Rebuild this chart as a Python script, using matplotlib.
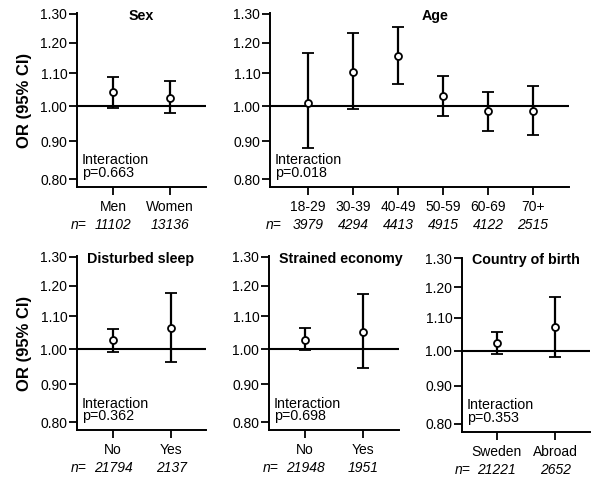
import numpy as np
import matplotlib
matplotlib.use("Agg")
import matplotlib.pyplot as plt

plt.rcParams['font.family'] = ['Liberation Sans', 'DejaVu Sans']

# data: OR, lower CI, upper CI, n
sex_cats = ["Men", "Women"]
sex_or = [1.043, 1.025]
sex_lo = [0.996, 0.979]
sex_hi = [1.088, 1.075]
sex_n = [11102, 13136]
sex_p = "0.663"

age_cats = ["18-29", "30-39", "40-49", "50-59", "60-69", "70+"]
age_or = [1.011, 1.104, 1.155, 1.030, 0.986, 0.986]
age_lo = [0.882, 0.993, 1.068, 0.971, 0.930, 0.918]
age_hi = [1.167, 1.233, 1.253, 1.091, 1.043, 1.062]
age_n = [3979, 4294, 4413, 4915, 4122, 2515]
age_p = "0.018"

sleep_cats = ["No", "Yes"]
sleep_or = [1.027, 1.064]
sleep_lo = [0.992, 0.964]
sleep_hi = [1.060, 1.176]
sleep_n = [21794, 2137]
sleep_p = "0.362"

econ_cats = ["No", "Yes"]
econ_or = [1.028, 1.052]
econ_lo = [0.998, 0.945]
econ_hi = [1.063, 1.172]
econ_n = [21948, 1951]
econ_p = "0.698"

birth_cats = ["Sweden", "Abroad"]
birth_or = [1.024, 1.071]
birth_lo = [0.990, 0.981]
birth_hi = [1.057, 1.167]
birth_n = [21221, 2652]
birth_p = "0.353"

yticks = [0.80, 0.90, 1.00, 1.10, 1.20, 1.30]

fig = plt.figure(figsize=(6.0, 5.03), dpi=100)


def panel(rect, title, cats, orv, lo, hi, nn, p, centered_title, title_x, xlim):
    ax = fig.add_axes(rect)
    x = np.arange(len(cats))
    orv = np.array(orv)
    err = [orv - np.array(lo), np.array(hi) - orv]
    ax.axhline(1.0, color='black', lw=1.5, zorder=1)
    ax.errorbar(x, orv, yerr=err, fmt='o', color='black', mfc='white', mec='black',
                ms=5, mew=1.3, elinewidth=1.6, capsize=4.2, capthick=1.6, zorder=3)
    # OR axis: compressed log-like scale, as in the original
    ax.set_yscale('function', functions=(lambda v: np.log(v + 0.5), lambda u: np.exp(u) - 0.5))
    ax.set_ylim(0.78, 1.302)
    ax.set_xlim(*xlim)
    ax.set_yticks(yticks)
    ax.set_yticklabels(["%.2f" % t for t in yticks])
    ax.minorticks_off()
    ax.set_xticks(x)
    ax.set_xticklabels(cats)
    for s in ['top', 'right']:
        ax.spines[s].set_visible(False)
    for s in ['left', 'bottom']:
        ax.spines[s].set_linewidth(1.4)
    ax.tick_params(direction='out', length=5.5, width=1.3, labelsize=10, pad=1.5)
    ax.tick_params(axis='x', pad=4)

    # title
    if centered_title:
        ax.annotate(title, xy=(title_x, 1), xycoords='axes fraction', xytext=(0, -5),
                    textcoords='offset points', ha='center', va='baseline',
                    fontsize=10.3, fontweight='bold')
    else:
        ax.annotate(title, xy=(0, 1), xycoords='axes fraction', xytext=(7, -5),
                    textcoords='offset points', ha='left', va='baseline',
                    fontsize=10.3, fontweight='bold')

    # interaction text
    ax.annotate("Interaction", xy=(0, 0), xycoords='axes fraction', xytext=(3.3, 16.2),
                textcoords='offset points', ha='left', va='baseline', fontsize=10.3)
    ax.annotate("p=" + p, xy=(0, 0), xycoords='axes fraction', xytext=(3.3, 7.0),
                textcoords='offset points', ha='left', va='baseline', fontsize=10.3)

    # n row
    ax.annotate("n=", xy=(0, 0), xycoords=('data', 'axes fraction'), xytext=(-19, -27.5),
                textcoords='offset points', ha='right', va='center', fontsize=10,
                style='italic', annotation_clip=False)
    for i, v in enumerate(nn):
        ax.annotate(str(v), xy=(i, 0), xycoords=('data', 'axes fraction'), xytext=(0, -27.5),
                    textcoords='offset points', ha='center', va='center', fontsize=10,
                    style='italic', annotation_clip=False)
    return ax


h = 174 / 503
top = (503 - 187) / 503
bot = (503 - 430) / 503

panel([77 / 600, top, 129 / 600, h], "Sex", sex_cats, sex_or, sex_lo, sex_hi, sex_n, sex_p,
      True, 0.5, (-0.63, 1.63))
panel([270 / 600, top, 299 / 600, h], "Age", age_cats, age_or, age_lo, age_hi, age_n, age_p,
      True, 0.552, (-0.844, 5.8))
panel([77 / 600, bot, 129 / 600, h], "Disturbed sleep", sleep_cats, sleep_or, sleep_lo, sleep_hi,
      sleep_n, sleep_p, False, 0, (-0.62, 1.6))
panel([269 / 600, bot, 130 / 600, h], "Strained economy", econ_cats, econ_or, econ_lo, econ_hi,
      econ_n, econ_p, False, 0, (-0.62, 1.62))
panel([462 / 600, (503 - 431.5) / 503, 128 / 600, h], "Country of birth", birth_cats, birth_or,
      birth_lo, birth_hi, birth_n, birth_p, False, 0, (-0.6, 1.6))

fig.text(25 / 600, 1 - 100 / 503, "OR (95% CI)", rotation=90, ha='center', va='center',
         fontsize=12, fontweight='bold')
fig.text(25 / 600, 1 - 343 / 503, "OR (95% CI)", rotation=90, ha='center', va='center',
         fontsize=12, fontweight='bold')

fig.savefig("out.png", dpi=100)
